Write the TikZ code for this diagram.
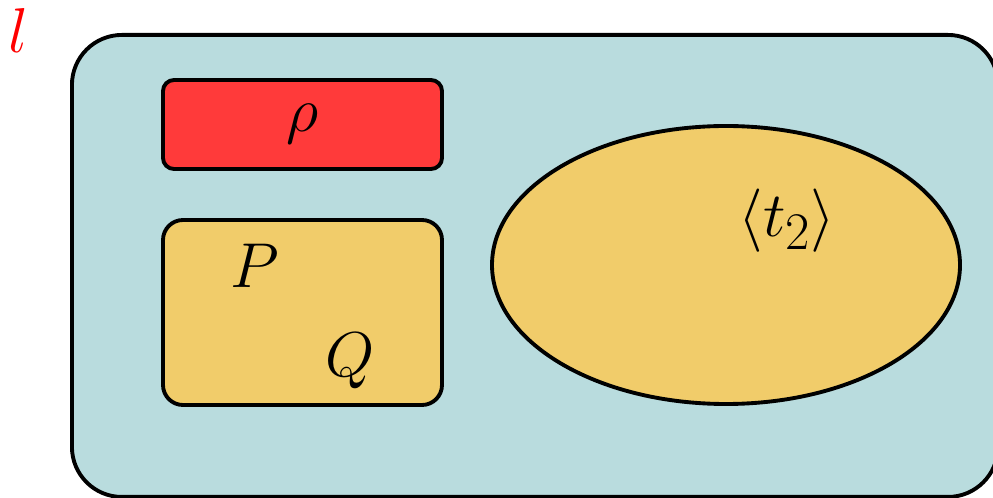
\documentclass[tikz,border=0pt]{standalone}
\usepackage{amsmath}
\usetikzlibrary{shapes.geometric}
\definecolor{outerblue}{RGB}{185,220,222}
\definecolor{boxyellow}{RGB}{241,204,106}
\definecolor{boxred}{RGB}{255,58,58}
\tikzset{
  frame/.style={draw=black,line width=2.2pt},
  bigtext/.style={font=\Huge,scale=1.45,inner sep=0pt}
}

\begin{document}
\begin{tikzpicture}
  \useasboundingbox (0,0) rectangle (19.86,9.96);
  \clip (0,0) rectangle (19.86,9.96);
  % outer region
  \node[frame,fill=outerblue,rounded corners=1cm,minimum width=18.52cm,
    minimum height=9.24cm,anchor=north west] (outer) at (1.4,9.30) {};
  \node[bigtext,text=red] (lbl) at (0.36,9.36) {$l$};
  % left boxes
  \node[frame,fill=boxred,rounded corners=0.22cm,minimum width=5.58cm,
    minimum height=1.78cm] (rhobox) at (6.05,7.47) {};
  \node[bigtext] (rho) at (rhobox) {$\rho$};
  \node[frame,fill=boxyellow,rounded corners=0.4cm,minimum width=5.58cm,
    minimum height=3.70cm] (pqbox) at (6.05,3.71) {};
  \node[bigtext,anchor=base] (p) at (5.1,4.2) {$P$};
  \node[bigtext,anchor=base] (q) at (7.0,2.42) {$Q$};
  % ellipse
  \node[frame,fill=boxyellow,ellipse,minimum width=9.36cm,
    minimum height=5.56cm] (ell) at (14.52,4.66) {};
  \node[bigtext] (t2) at (15.74,5.54) {$\langle t_2\rangle$};
\end{tikzpicture}
\end{document}
